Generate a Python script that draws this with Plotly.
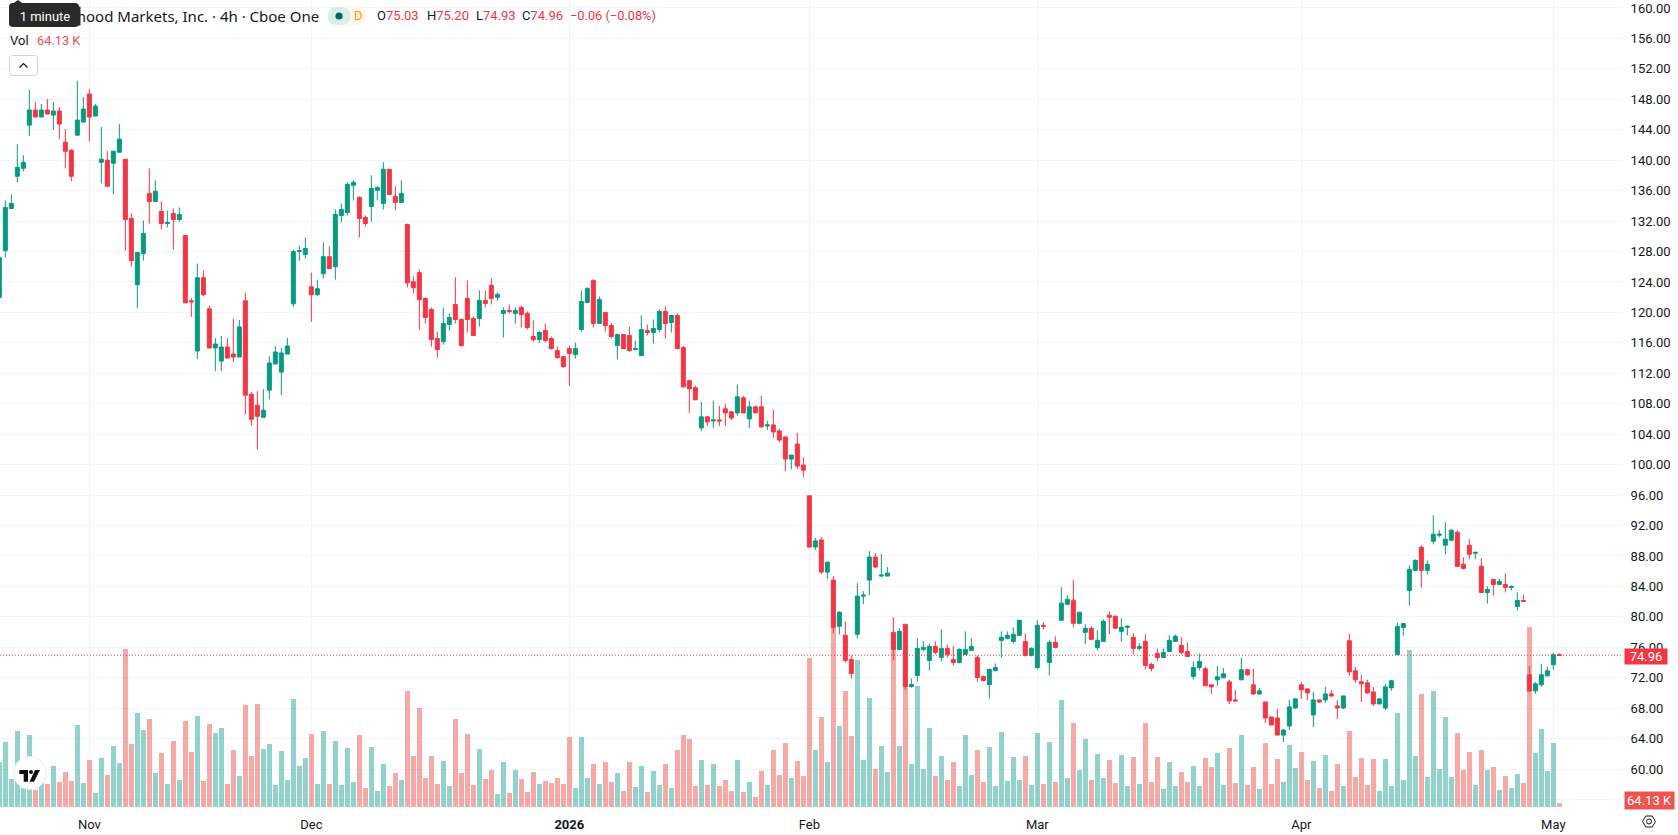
import plotly.graph_objects as go

# --- OHLC per 4h bar, oldest first ---
open_prices = [
    121.97,128.12,133.66,137.89,138.94,144.61,146.59,145.67,146.59,145.93,
    146.46,142.37,141.32,143.29,145.01,148.7,145.8,139.73,140.0,139.6,
    141.05,140.13,132.34,123.64,127.73,135.64,134.59,133.27,131.68,133.0,
    132.21,130.1,121.53,114.93,124.56,120.47,115.33,113.61,115.46,114.53,
    114.14,121.53,109.26,107.81,106.22,109.79,113.22,112.16,114.53,121.13,
    127.99,127.6,123.37,122.32,125.09,127.33,126.01,132.74,133.14,136.7,
    135.12,132.48,133.93,136.04,134.32,138.81,135.25,134.46,131.55,124.03,
    125.22,121.84,120.39,116.57,116.17,118.41,121.05,119.07,121.84,119.2,
    119.2,121.58,123.56,121.98,119.87,120.26,119.87,120.66,119.87,116.83,
    116.43,117.62,116.57,114.98,114.19,115.25,114.46,117.75,121.32,124.22,
    118.55,120.0,118.28,115.64,117.09,116.96,115.12,114.32,117.62,117.36,
    117.75,120.13,118.68,119.6,115.38,111.03,110.1,104.83,106.28,105.75,
    105.88,107.33,106.94,106.8,108.78,106.01,107.6,107.6,105.09,105.22,
    104.43,103.64,100.74,102.71,99.94,95.91,89.18,90.11,85.89,84.83,
    78.76,77.57,74.41,77.71,82.72,84.83,87.86,85.36,85.36,77.97,
    75.73,79.03,70.85,72.3,75.73,74.28,76.12,74.67,75.86,74.41,
    74.01,75.07,75.6,74.67,72.17,71.11,72.96,76.91,77.18,76.78,
    77.57,76.78,74.94,73.35,78.89,74.01,76.65,79.55,81.66,82.19,
    79.16,77.97,78.5,75.99,76.78,80.21,80.08,78.1,78.63,77.31,
    75.86,76.78,73.75,75.2,74.67,75.46,76.78,76.25,75.46,72.17,
    73.35,73.18,71.07,71.73,71.99,71.46,69.09,71.73,73.05,71.07,
    69.88,68.82,66.85,66.71,64.47,65.66,68.03,71.07,70.54,67.11,
    69.09,69.09,69.88,68.3,68.03,76.87,72.91,71.46,71.33,70.14,
    68.56,68.03,70.67,75.03,78.59,83.47,86.11,89.14,86.11,89.93,
    90.72,89.41,90.07,91.12,86.9,89.41,88.35,86.64,83.2,84.92,
    84.26,84.26,83.86,81.36,82.15,72.39,70.28,71.07,72.25,73.71,75.03,
]
close_prices = [
    127.2,133.8,134.32,139.07,139.73,146.59,145.67,146.59,146.07,146.46,
    144.75,141.18,137.89,145.27,146.72,145.67,147.12,140.13,136.57,141.18,
    142.77,132.21,126.8,127.86,130.37,134.59,135.91,131.68,131.82,132.21,
    132.87,121.26,121.4,124.56,122.32,115.33,115.85,115.46,114.0,114.14,
    118.1,109.13,105.96,106.36,107.15,113.35,114.8,114.67,115.59,127.99,
    128.12,128.39,122.32,123.11,127.33,125.75,132.87,133.53,136.83,137.09,
    132.34,131.68,136.3,136.43,138.81,135.51,134.46,135.64,123.9,123.24,
    121.66,119.34,116.43,115.12,118.55,119.34,119.07,115.64,119.07,116.96,
    121.58,121.18,121.84,122.37,120.26,120.13,120.26,119.73,118.02,116.43,
    117.36,116.3,115.25,114.06,112.87,114.59,115.25,121.45,123.16,118.55,
    121.71,118.28,116.83,117.09,115.25,114.98,115.25,117.75,117.36,117.89,
    120.13,118.55,119.6,115.25,110.23,109.97,108.52,106.28,105.62,105.88,
    105.75,106.8,106.14,108.91,106.8,107.6,106.8,104.96,105.22,104.3,
    103.24,100.74,101.26,99.81,99.28,89.18,89.98,85.89,87.2,78.63,
    80.61,74.28,72.56,82.72,82.85,87.86,86.55,85.49,85.75,75.73,
    78.1,70.85,71.11,75.86,75.99,76.12,75.33,75.86,75.07,74.01,
    75.73,75.73,76.12,72.03,71.64,73.09,73.35,77.31,77.57,77.71,
    79.55,74.94,75.86,78.89,78.76,76.65,75.99,81.8,82.32,79.16,
    80.61,78.5,77.05,76.91,79.42,79.95,78.5,78.63,78.76,75.86,
    76.12,73.62,73.22,74.67,75.33,76.91,77.44,75.33,74.8,73.35,
    74.14,70.94,70.8,72.12,72.52,68.96,68.96,73.05,72.39,69.88,
    70.28,66.71,65.79,64.47,65.13,68.17,69.22,70.41,70.01,69.09,
    68.82,69.88,69.62,68.03,69.62,72.78,71.73,71.2,70.01,68.56,
    69.22,70.8,71.6,78.72,79.12,86.24,87.43,86.11,86.9,90.86,
    90.86,90.2,91.38,86.64,86.37,88.22,88.48,83.2,83.6,84.26,
    84.66,83.86,84.0,82.15,82.02,70.28,71.2,72.39,72.91,75.03,74.96,
]
high_prices = [
    127.4,134.72,135.5,142.1,140.66,149.23,147.65,147.38,148.04,147.65,
    146.99,144.09,141.45,150.42,148.31,149.36,147.38,144.35,141.18,141.18,
    144.75,140.13,133.0,127.99,132.08,138.94,137.36,134.59,133.4,133.66,
    133.8,130.1,121.92,126.41,125.48,120.87,116.65,116.91,116.65,119.15,
    119.02,122.58,109.52,109.65,109.92,114.27,115.59,115.33,116.65,128.25,
    128.78,129.84,125.22,124.3,129.18,128.65,133.53,134.32,137.09,137.36,
    135.25,132.74,138.02,136.57,139.73,138.81,136.57,137.36,131.68,124.75,
    125.67,121.98,120.66,117.49,120.66,119.87,124.61,119.2,124.22,119.47,
    122.9,122.9,124.48,122.63,120.66,121.05,120.66,120.92,120.13,118.94,
    117.62,118.55,116.83,115.51,114.19,115.64,116.04,122.9,123.29,124.35,
    122.11,120.0,118.68,117.23,117.09,118.15,116.3,119.6,118.41,119.07,
    120.39,120.79,119.6,119.87,115.64,111.16,110.37,108.26,106.41,108.39,
    107.73,107.99,107.07,110.5,109.05,108.39,107.73,109.05,105.75,107.2,
    104.69,103.77,101.26,104.17,101.0,95.91,90.37,90.5,87.2,85.36,
    80.74,79.42,74.94,84.43,83.38,88.66,88.39,88.26,86.55,79.95,
    78.5,79.03,71.9,77.18,76.78,76.52,76.78,78.37,76.39,76.12,
    75.86,78.1,77.18,74.94,72.3,73.22,73.88,78.1,78.1,78.63,
    79.55,77.84,75.99,79.55,79.29,76.91,77.44,83.91,82.85,84.83,
    80.61,79.03,78.76,78.23,79.68,80.74,80.21,79.82,78.89,77.84,
    76.52,77.71,74.01,75.86,75.86,77.57,77.71,77.31,76.65,74.14,
    75.2,73.44,71.07,73.57,73.31,71.73,70.41,74.63,73.18,73.18,
    70.67,68.82,66.85,67.9,65.26,69.09,69.35,71.46,70.67,70.14,
    69.09,70.8,70.41,69.09,69.62,77.8,73.44,72.39,71.73,70.8,
    69.35,71.2,71.73,79.25,79.12,86.77,87.56,89.41,87.43,93.36,
    91.38,92.44,91.52,91.38,87.82,90.2,88.48,87.69,84.0,84.92,
    85.05,85.71,84.13,83.2,82.94,73.57,71.46,73.84,73.44,75.29,75.20,
]
low_prices = [
    121.9,127.2,133.66,137.1,138.55,143.16,145.67,145.67,146.07,143.95,
    142.77,138.94,137.23,143.29,145.01,142.5,145.8,136.96,136.57,135.51,
    141.05,128.12,126.01,120.6,126.8,131.68,134.59,130.89,131.16,128.25,
    131.95,121.26,119.42,113.87,122.19,115.33,112.29,112.29,114.0,113.48,
    114.14,106.62,105.17,102.0,106.22,108.6,113.22,109.13,114.53,120.74,
    126.8,127.07,118.76,122.19,124.43,125.75,124.3,131.82,132.74,134.72,
    129.84,131.29,131.95,134.72,133.53,135.51,133.4,134.46,123.3,122.5,
    117.75,118.55,115.51,114.06,115.77,117.62,118.55,115.51,117.36,116.96,
    118.15,120.66,121.05,121.58,116.7,119.87,118.55,118.02,117.75,116.17,
    116.04,116.04,115.12,113.93,112.74,110.37,113.93,117.49,121.32,118.02,
    118.55,117.49,116.57,113.8,115.25,114.85,115.12,114.32,116.96,115.91,
    117.36,116.57,117.36,115.12,110.1,106.8,108.52,104.43,105.09,104.83,
    105.09,105.09,105.88,106.41,106.8,104.83,106.8,104.83,104.56,103.51,
    102.98,99.15,99.42,99.42,98.36,89.05,88.79,85.62,84.96,77.84,
    77.71,74.01,71.9,77.18,81.66,82.85,86.41,85.23,85.36,74.28,
    75.73,70.45,70.71,71.51,75.46,72.96,75.07,74.14,74.67,73.62,
    73.88,75.07,75.6,71.51,71.51,69.26,72.82,74.67,77.05,76.52,
    77.57,74.8,74.8,73.09,78.37,72.3,75.86,79.55,81.53,78.63,
    79.03,76.39,76.91,75.6,76.78,77.71,78.5,76.78,77.57,75.07,
    75.6,73.09,72.82,74.14,74.67,75.46,76.78,75.07,74.8,71.77,
    72.96,70.94,69.88,70.94,71.99,68.56,68.96,71.73,72.25,69.75,
    69.75,66.05,65.79,64.47,63.55,65.13,67.9,69.22,69.09,65.53,
    68.69,68.69,69.48,66.58,67.9,72.25,71.33,68.82,69.88,68.3,
    68.56,67.77,70.28,75.03,77.53,81.49,86.11,83.86,85.58,89.54,
    90.46,88.22,89.93,86.64,86.24,87.56,87.56,83.2,81.75,82.81,
    84.26,83.2,83.47,80.83,82.02,70.14,69.88,70.8,72.25,73.05,74.93,
]
# Volume in thousands of shares
volume_k = [
    781,1131,484,1323,350,1253,292,466,396,711,
    431,606,449,1428,414,816,239,851,554,1061,
    764,2758,1096,1638,1341,1533,589,939,396,1149,
    466,1498,956,1586,449,1446,1288,1376,396,991,
    536,1778,886,1796,1009,1096,379,974,466,1883,
    711,851,1271,396,1323,396,1149,379,1026,431,
    1253,326,1044,274,746,361,589,466,2023,886,
    1726,501,886,396,799,361,1533,589,1271,379,
    1009,484,641,222,781,239,641,484,257,606,
    396,449,414,501,396,1218,326,1218,501,746,
    396,781,431,589,274,781,344,711,257,624,
    379,746,326,991,1253,1183,361,816,379,746,
    361,466,274,816,257,431,169,624,379,991,
    554,1114,501,799,536,2600,991,1568,781,3265,
    1411,2023,1236,2565,816,1901,659,1061,606,2915,
    1061,2215,746,2110,659,1376,536,886,466,781,
    361,1253,554,991,431,1044,361,1306,449,869,
    466,886,379,1288,396,1131,431,1866,501,1463,
    641,1183,466,921,501,816,414,904,361,869,
    396,1463,431,869,309,781,361,606,431,711,
    361,851,694,939,379,1026,414,1253,379,694,
    309,1114,396,834,431,1079,676,956,466,799,
    326,904,274,746,361,1323,519,851,379,834,
    274,834,361,1638,466,2740,886,1971,519,2023,
    659,1568,519,1288,641,956,379,991,641,694,
    292,536,326,571,414,3148,939,1358,624,1114,64.13,
]

price_ticks = [56 + 4 * n for n in range(27)]
month_bars = [15, 52, 95, 135, 173, 217, 259]
month_labels = ["Nov", "Dec", "<b>2026</b>", "Feb", "Mar", "Apr", "May"]
last_price = 74.96

UP, DOWN = "#089981", "#F23645"
VOL_UP, VOL_DOWN = "rgba(38,166,154,0.5)", "rgba(239,83,80,0.5)"
INK = "#131722"
GRID = "#F2F3F6"
FONT = "Roboto, sans-serif"
TITLE_FONT = "Noto Sans, sans-serif"

W, H, PLOT_W, PLOT_H = 1678, 835, 1623, 807
bars = list(range(len(close_prices)))


def px(x):
    return x / PLOT_W


def py(y):
    return 1 - y / PLOT_H


fig = go.Figure()
fig.add_trace(go.Bar(
    x=bars, y=volume_k, yaxis="y", width=0.83,
    marker=dict(color=[VOL_UP if c >= o else VOL_DOWN for o, c in zip(open_prices, close_prices)], line_width=0),
    hoverinfo="skip", showlegend=False,
))
fig.add_trace(go.Candlestick(
    x=bars, open=open_prices, high=high_prices, low=low_prices, close=close_prices, yaxis="y2",
    increasing=dict(line=dict(color=UP, width=1), fillcolor=UP),
    decreasing=dict(line=dict(color=DOWN, width=1), fillcolor=DOWN),
    whiskerwidth=0, showlegend=False,
))


def text(x, y, s, size=13, color=INK, anchor="left", family=FONT):
    fig.add_annotation(xref="paper", yref="paper", x=px(x), y=py(y), text=s, showarrow=False,
                       xanchor=anchor, yanchor="middle", font=dict(family=family, size=size, color=color))


def rounded(x0, y0, x1, y1, r):
    return (f"M{px(x0+r)},{py(y0)} L{px(x1-r)},{py(y0)} Q{px(x1)},{py(y0)} {px(x1)},{py(y0+r)} "
            f"L{px(x1)},{py(y1-r)} Q{px(x1)},{py(y1)} {px(x1-r)},{py(y1)} L{px(x0+r)},{py(y1)} "
            f"Q{px(x0)},{py(y1)} {px(x0)},{py(y1-r)} L{px(x0)},{py(y0+r)} Q{px(x0)},{py(y0)} {px(x0+r)},{py(y0)} Z")


def poly(points):
    return "M" + " L".join(f"{px(x)},{py(y)}" for x, y in points) + " Z"


def shape_path(path, fill=None, line=None, width=1):
    fig.add_shape(type="path", xref="paper", yref="paper", path=path, layer="above",
                  fillcolor=fill or "rgba(0,0,0,0)", line=dict(color=line or "rgba(0,0,0,0)", width=width if line else 0))


def circle(cx, cy, r, fill=None, line=None, width=1):
    fig.add_shape(type="circle", xref="paper", yref="paper", x0=px(cx - r), x1=px(cx + r), y0=py(cy + r), y1=py(cy - r),
                  layer="above", fillcolor=fill or "rgba(0,0,0,0)",
                  line=dict(color=line or "rgba(0,0,0,0)", width=width if line else 0))


# Legend header
text(320.5, 16, "Robinhood Markets, Inc. · 4h · Cboe One", size=15, anchor="right", family=TITLE_FONT)
for x, letter, value in [(375, "O", "75.03"), (425, "H", "75.20"), (474, "L", "74.93"), (520, "C", "74.96")]:
    text(x, 16, f'{letter}<span style="color:{DOWN}">{value}</span>', size=13)
text(568, 16, "−0.06 (−0.08%)", size=12.8, color=DOWN)
text(8, 40.5, "Vol", size=13)
text(35, 40.5, "64.13 K", size=12.8, color="#EF5350")

# Hover hint over the symbol name: rounded plate, pointer and an inset label
shape_path(rounded(9, 3, 79, 27, 4), fill="#2A2A2A")
shape_path(poly([(13, 3.5), (18, 0), (23, 3.5)]), fill="#2A2A2A")
fig.add_annotation(xref="paper", yref="paper", x=px(9), y=py(6), xanchor="left", yanchor="top",
                   text="1 minute", showarrow=False, bgcolor="#2A2A2A", width=70, height=18, borderpad=0,
                   font=dict(family=FONT, size=13, color="#FFFFFF"))

# Last-value tags on the right scale
fig.add_annotation(xref="paper", yref="paper", x=px(1624), y=py(647.5), xanchor="left", yanchor="top",
                   text="74.96", showarrow=False, bgcolor=DOWN, width=42, height=15, borderpad=0,
                   font=dict(family=FONT, size=13, color="#FFFFFF"))
fig.add_annotation(xref="paper", yref="paper", x=px(1624), y=py(790.5), xanchor="left", yanchor="top",
                   text="64.13 K", showarrow=False, bgcolor="#EF5350", width=49, height=16.5, borderpad=0,
                   font=dict(family=FONT, size=13, color="#FFFFFF"))

# Last-price line
fig.add_shape(type="line", xref="paper", yref="y2", x0=0, x1=1, y0=last_price, y1=last_price, layer="above",
              line=dict(color=DOWN, width=1, dash="1px,2px"))

# Market status pill
shape_path(rounded(328, 7, 367, 25, 9), fill="#FFF6EC")
shape_path(rounded(328, 7, 350, 25, 9), fill="#D5EFEA")
circle(339, 16, 3.6, fill="#056656")
text(351.5, 16, "D", size=13, color="#FF9800")

# Collapse button
shape_path(rounded(9.5, 55.5, 37.5, 75.5, 3), fill="#FFFFFF", line="#D1D4DC")
shape_path(f"M{px(19.5)},{py(67.5)} L{px(23.5)},{py(63.5)} L{px(27.5)},{py(67.5)}", line=INK, width=1.2)

# Brand badge
circle(30, 773, 16.5, fill="#FFFFFF", line="#ECEDEF", width=1)
shape_path(poly([(19.3, 770), (28, 770), (28, 781.7), (23.7, 781.7), (23.7, 774), (19.3, 774)]), fill="#111111")
circle(31, 772, 2, fill="#111111")
shape_path(poly([(35, 770), (40, 770), (34, 781.7), (29.5, 781.7)]), fill="#111111")

# Settings glyph under the price scale
shape_path(poly([(1642.5, 821.5), (1645.7, 816), (1652.3, 816), (1655.5, 821.5), (1652.3, 827), (1645.7, 827)]), line=INK)
circle(1649, 821.5, 2.5, line=INK)

fig.update_layout(
    width=W, height=H, margin=dict(l=0, r=W - PLOT_W, t=0, b=H - PLOT_H, pad=0),
    paper_bgcolor="#FFFFFF", plot_bgcolor="#FFFFFF", boxgap=0.333, boxgroupgap=0, bargap=0,
    font=dict(family=FONT, size=13, color=INK), showlegend=False,
    xaxis=dict(range=[0.112, 270.61], rangeslider_visible=False, tickmode="array", tickvals=month_bars,
               ticktext=month_labels, showgrid=True, gridcolor=GRID, gridwidth=1, zeroline=False, showline=False,
               ticks="outside", ticklen=5, tickcolor="rgba(0,0,0,0)", tickfont=dict(family=FONT, size=13, color=INK)),
    yaxis=dict(range=[0, 14115], domain=[0, 1], visible=False, fixedrange=True),
    yaxis2=dict(range=[55.02, 161.05], overlaying="y", side="right", tickmode="array", tickvals=price_ticks,
                ticktext=[f"{t:.2f}" for t in price_ticks], showgrid=True, gridcolor=GRID, gridwidth=1, zeroline=False,
                showline=False, ticks="outside", ticklen=4, tickcolor="rgba(0,0,0,0)", ticklabeloverflow="allow",
                tickfont=dict(family=FONT, size=13, color=INK)),
)

fig.write_html("out.html")
